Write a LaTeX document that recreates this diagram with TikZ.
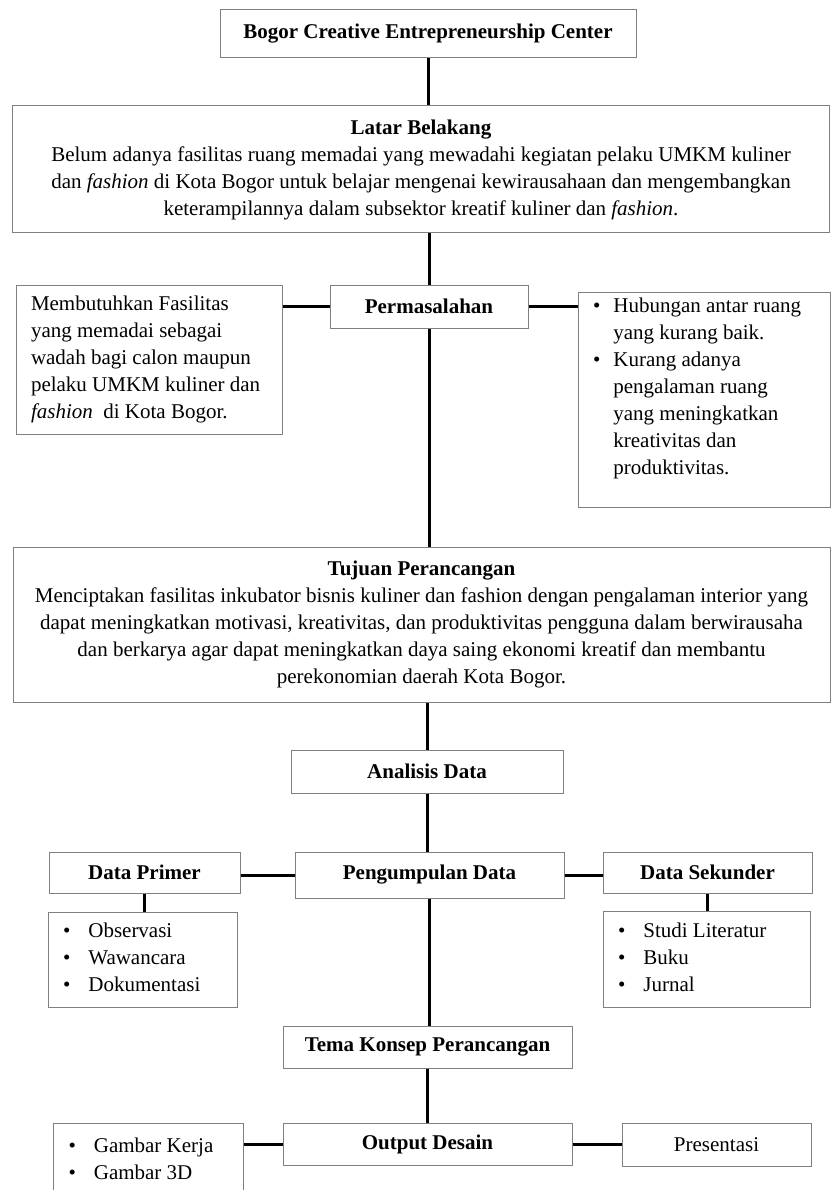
\documentclass[tikz,border=0pt]{standalone}
\usepackage{fontspec}
\setmainfont{Liberation Serif}
\newcommand{\teks}{\fontsize{21}{27}\selectfont}
\newcommand{\butir}{\textbullet}

\begin{document}
\begin{tikzpicture}[x=1pt,y=-1pt,
    kotak/.style={draw=black!50,line width=1pt,inner sep=0pt,font=\teks,align=center},
    judul/.style={kotak,font=\teks\bfseries},
    daftar/.style={kotak,align=flush left,inner xsep=15pt},
    ukuran/.style 2 args={minimum width=#1pt,minimum height=#2pt},
    garis/.style={line width=3pt}]
  \useasboundingbox (0,0) rectangle (831,1190);
  \clip (0,0) rectangle (831,1190);

  % bagian atas
  \node [judul,ukuran={416}{48}] (bcec) at (428,34) {Bogor Creative Entrepreneurship Center};
  \node [kotak,ukuran={817}{127}] (latar) at (421,169.5)
    {\textbf{Latar Belakang}\\
     Belum adanya fasilitas ruang memadai yang mewadahi kegiatan pelaku UMKM kuliner\\
     dan \textit{fashion} di Kota Bogor untuk belajar mengenai kewirausahaan dan mengembangkan\\
     keterampilannya dalam subsektor kreatif kuliner dan \textit{fashion}.};

  % permasalahan
  \node [judul,ukuran={198}{43}] (masalah) at (429,306.5) {Permasalahan};
  \node [kotak,align=flush left,ukuran={266}{149},text width=236pt,inner xsep=15pt] (kebutuhan) at (149,359.5)
    {Membutuhkan Fasilitas\\ yang memadai sebagai\\ wadah bagi calon maupun\\ pelaku UMKM kuliner dan\\ \textit{fashion}~ di Kota Bogor.};
  \node [daftar,ukuran={252}{215},text width=222pt] (isu) at (704,399.5)
    {\begin{tabular}{@{}l@{\hspace{13pt}}l@{}}
     \butir & Hubungan antar ruang\\
            & yang kurang baik.\\
     \butir & Kurang adanya\\
            & pengalaman ruang\\
            & yang meningkatkan\\
            & kreativitas dan\\
            & produktivitas.\\[22pt]
     \end{tabular}};

  % tujuan
  \node [kotak,ukuran={817}{155}] (tujuan) at (421.5,624.5)
    {\textbf{Tujuan Perancangan}\\
     Menciptakan fasilitas inkubator bisnis kuliner dan fashion dengan pengalaman interior yang\\
     dapat meningkatkan motivasi, kreativitas, dan produktivitas pengguna dalam berwirausaha\\
     dan berkarya agar dapat meningkatkan daya saing ekonomi kreatif dan membantu\\
     perekonomian daerah Kota Bogor.};

  % data
  \node [judul,ukuran={272}{43}] (analisis) at (427,771.5) {Analisis Data};
  \node [judul,ukuran={269}{46}] (kumpul) at (429.5,875) {Pengumpulan Data};
  \node [judul,ukuran={191}{41}] (primer) at (144.5,872.5) {Data Primer};
  \node [judul,ukuran={209}{41}] (sekunder) at (707.5,872.5) {Data Sekunder};
  \node [daftar,ukuran={189}{95},text width=159pt] (isiprimer) at (142.5,959.5)
    {\begin{tabular}{@{}l@{\hspace{18pt}}l@{}}
     \butir & Observasi\\ \butir & Wawancara\\ \butir & Dokumentasi
     \end{tabular}};
  \node [daftar,ukuran={207}{96},text width=177pt] (isisekunder) at (706.5,959)
    {\begin{tabular}{@{}l@{\hspace{18pt}}l@{}}
     \butir & Studi Literatur\\ \butir & Buku\\ \butir & Jurnal
     \end{tabular}};

  % konsep dan output
  \node [judul,ukuran={289}{42}] (tema) at (427.5,1047) {Tema Konsep Perancangan};
  \node [judul,ukuran={289}{42}] (output) at (427.5,1144) {Output Desain};
  \node [daftar,anchor=north west,text width=160pt,inner ysep=10pt] (gambar) at (53,1123)
    {\begin{tabular}{@{}l@{\hspace{18pt}}l@{}}
     \butir & Gambar Kerja\\ \butir & Gambar 3D
     \end{tabular}};
  \node [kotak,ukuran={189}{43}] (presentasi) at (716.5,1144.5) {Presentasi};

  % penghubung
  \draw [garis] (bcec.south) -- (bcec.south |- latar.north);
  \draw [garis] (masalah.north) -- (masalah.north |- latar.south);
  \draw [garis] (masalah.west) -- (masalah.west -| kebutuhan.east);
  \draw [garis] (masalah.east) -- (masalah.east -| isu.west);
  \draw [garis] (masalah.south) -- (masalah.south |- tujuan.north);
  \draw [garis] (analisis.north) -- (analisis.north |- tujuan.south);
  \draw [garis] (analisis.south) -- (analisis.south |- kumpul.north);
  \draw [garis] (kumpul.west) -- (kumpul.west -| primer.east);
  \draw [garis] (kumpul.east) -- (kumpul.east -| sekunder.west);
  \draw [garis] (primer.south) -- (primer.south |- isiprimer.north);
  \draw [garis] (sekunder.south) -- (sekunder.south |- isisekunder.north);
  \draw [garis] (kumpul.south) -- (kumpul.south |- tema.north);
  \draw [garis] (tema.south) -- (tema.south |- output.north);
  \draw [garis] (output.west) -- (output.west -| gambar.east);
  \draw [garis] (output.east) -- (output.east -| presentasi.west);
\end{tikzpicture}
\end{document}
